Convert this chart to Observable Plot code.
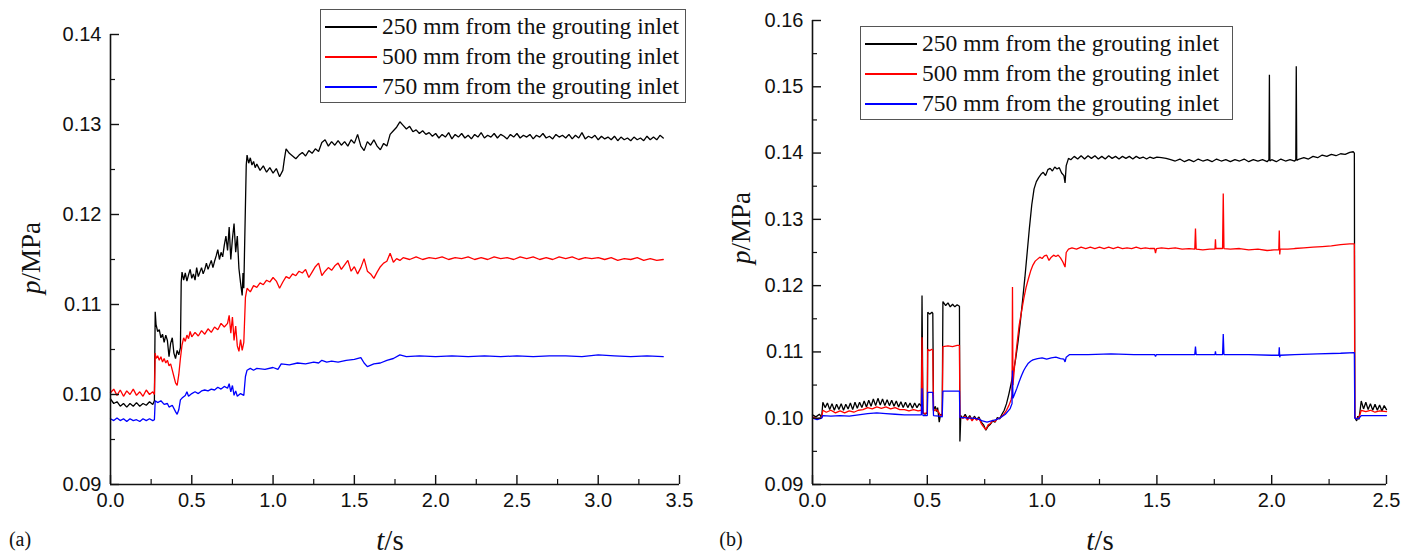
<!DOCTYPE html>
<html>
<head>
<meta charset="utf-8">
<script src="https://cdn.jsdelivr.net/npm/d3@7"></script>
<script src="https://cdn.jsdelivr.net/npm/@observablehq/plot@0.6"></script>
<style>
  html, body { margin: 0; padding: 0; background: #fff; }
  #page { position: relative; width: 1413px; height: 554px; overflow: hidden; background: #fff; color: #111; }
  .panel { position: absolute; top: 0; }
  .legend { position: absolute; border: 1px solid #555; background: #fff; box-sizing: border-box;
            font-family: "Liberation Serif", "Times New Roman", serif; font-size: 23.5px; color: #111; }
  .legend .row { position: absolute; left: 0; height: 30px; line-height: 30px; white-space: nowrap; }
  .legend .sw { position: absolute; left: 4px; top: 15px; width: 52px; height: 1.5px; }
  .legend .tx { position: absolute; left: 61px; top: 0; }
  .lab { position: absolute; font-family: "Liberation Serif", "Times New Roman", serif; color: #111; white-space: nowrap; }
</style>
</head>
<body>
<div id="page"></div>
<script>
// ---------- categories / legend ----------
const seriesNames = ["250 mm from the grouting inlet", "500 mm from the grouting inlet", "750 mm from the grouting inlet"];
const seriesColors = ["#000000", "#ff0000", "#0000ff"];

// ---------- panel (a) ticks ----------
const aXTicks = [0, 0.5, 1.0, 1.5, 2.0, 2.5, 3.0, 3.5];
const aXMinor = [0.25, 0.75, 1.25, 1.75, 2.25, 2.75, 3.25];
const aYTicks = [0.09, 0.10, 0.11, 0.12, 0.13, 0.14];
const aYMinor = [0.095, 0.105, 0.115, 0.125, 0.135];
// ---------- panel (b) ticks ----------
const bXTicks = [0, 0.5, 1.0, 1.5, 2.0, 2.5];
const bXMinor = [0.25, 0.75, 1.25, 1.75, 2.25];
const bYTicks = [0.09, 0.10, 0.11, 0.12, 0.13, 0.14, 0.15, 0.16];
const bYMinor = [0.095, 0.105, 0.115, 0.125, 0.135, 0.145, 0.155];

// ---------- panel (a) series: [t (s), p (MPa)] ----------
const a250 = [[0,0.0995],[0.02,0.0990],[0.04,0.0992],[0.06,0.0987],[0.08,0.0990],[0.10,0.0986],[0.12,0.0990],[0.14,0.0987],[0.16,0.0991],[0.18,0.0987],[0.20,0.0990],[0.22,0.0988],[0.24,0.0992],[0.26,0.0989],[0.27,0.0993],
[0.275,0.1092],[0.28,0.1078],[0.29,0.1070],[0.30,0.1072],[0.31,0.1063],[0.32,0.1067],[0.33,0.1058],[0.34,0.1066],[0.35,0.1060],[0.36,0.1042],[0.37,0.1057],[0.38,0.1063],[0.39,0.1046],[0.40,0.1040],[0.41,0.1049],[0.42,0.1044],[0.43,0.1052],
[0.435,0.1125],[0.44,0.1136],[0.45,0.1127],[0.46,0.1135],[0.47,0.1126],[0.48,0.1133],[0.49,0.1139],[0.50,0.1129],[0.51,0.1134],[0.52,0.1127],[0.53,0.1141],[0.54,0.1131],[0.55,0.1136],[0.56,0.1141],[0.57,0.1134],[0.58,0.1139],[0.59,0.1146],[0.60,0.1139],[0.61,0.1144],[0.62,0.1149],[0.63,0.1141],[0.64,0.1148],[0.65,0.1154],[0.66,0.1161],[0.67,0.1150],[0.68,0.1158],[0.69,0.1153],[0.70,0.1166],[0.71,0.1176],[0.72,0.1160],[0.73,0.1186],[0.74,0.1150],[0.75,0.1173],[0.76,0.1190],[0.77,0.1158],[0.78,0.1176],[0.79,0.1140],[0.80,0.1124],[0.81,0.1110],[0.815,0.1135],[0.82,0.1118],[0.825,0.1165],
[0.835,0.1255],[0.84,0.1266],[0.85,0.1257],[0.86,0.1263],[0.87,0.1255],[0.88,0.1259],[0.89,0.1252],[0.90,0.1256],[0.92,0.1249],[0.94,0.1254],[0.96,0.1247],[0.98,0.1252],[1.00,0.1246],[1.02,0.1251],[1.04,0.1242],[1.06,0.1249],[1.07,0.1262],[1.08,0.1273],[1.10,0.1268],[1.12,0.1265],[1.14,0.1262],[1.16,0.1266],[1.18,0.1269],[1.20,0.1265],[1.22,0.1271],[1.24,0.1268],[1.26,0.1273],[1.28,0.1270],[1.30,0.1280],[1.32,0.1283],[1.34,0.1276],[1.36,0.1281],[1.38,0.1277],[1.40,0.1282],[1.42,0.1277],[1.44,0.1281],[1.46,0.1276],[1.48,0.1283],[1.50,0.1279],[1.52,0.1289],[1.54,0.1276],[1.56,0.1271],[1.58,0.1281],[1.60,0.1277],[1.62,0.1283],[1.64,0.1276],[1.66,0.1272],[1.68,0.1279],[1.70,0.1276],[1.72,0.1289],[1.74,0.1293],[1.76,0.1297],[1.78,0.1303],[1.80,0.1299],[1.82,0.1295],[1.84,0.1298],[1.86,0.1292],[1.88,0.1294],[1.90,0.1290],[1.92,0.1293],[1.94,0.1289],[1.96,0.1291],[1.98,0.1287],[2.00,0.1290],
[2.02,0.1285],[2.04,0.1289],[2.06,0.1286],[2.08,0.1291],[2.10,0.1284],[2.12,0.1289],[2.14,0.1286],[2.16,0.1290],[2.18,0.1285],[2.20,0.1288],[2.22,0.1284],[2.24,0.1289],[2.26,0.1286],[2.28,0.1291],[2.30,0.1285],[2.32,0.1288],[2.34,0.1286],[2.36,0.1290],[2.38,0.1285],[2.40,0.1289],[2.42,0.1287],[2.44,0.1284],[2.46,0.1289],[2.48,0.1286],[2.50,0.1290],[2.52,0.1285],[2.54,0.1288],[2.56,0.1286],[2.58,0.1289],[2.60,0.1284],[2.62,0.1288],[2.64,0.1286],[2.66,0.1290],[2.68,0.1285],[2.70,0.1287],[2.72,0.1284],[2.74,0.1289],[2.76,0.1286],[2.78,0.1288],[2.80,0.1285],[2.82,0.1289],[2.84,0.1284],[2.86,0.1288],[2.88,0.1285],[2.90,0.1291],[2.92,0.1284],[2.94,0.1287],[2.96,0.1285],[2.98,0.1288],[3.00,0.1283],[3.02,0.1287],[3.04,0.1284],[3.06,0.1286],[3.08,0.1283],[3.10,0.1287],[3.12,0.1282],[3.14,0.1286],[3.16,0.1283],[3.18,0.1285],[3.20,0.1282],[3.22,0.1286],[3.24,0.1283],[3.26,0.1285],[3.28,0.1282],[3.30,0.1287],[3.32,0.1283],[3.34,0.1286],[3.36,0.1283],[3.38,0.1288],[3.40,0.1285]];

const a500 = [[0,0.1002],[0.02,0.1006],[0.04,0.0999],[0.06,0.1005],[0.08,0.0998],[0.10,0.1004],[0.12,0.1000],[0.14,0.1006],[0.16,0.0999],[0.18,0.1003],[0.20,0.0998],[0.22,0.1005],[0.24,0.1000],[0.26,0.1003],[0.27,0.1000],
[0.275,0.1046],[0.28,0.1040],[0.29,0.1043],[0.30,0.1038],[0.31,0.1042],[0.32,0.1036],[0.33,0.1040],[0.34,0.1035],[0.35,0.1038],[0.36,0.1032],[0.37,0.1034],[0.38,0.1027],[0.39,0.1020],[0.40,0.1013],[0.41,0.1010],[0.42,0.1022],[0.43,0.1040],[0.44,0.1055],[0.45,0.1063],[0.46,0.1059],[0.47,0.1066],[0.48,0.1062],[0.49,0.1070],[0.50,0.1064],[0.52,0.1069],[0.54,0.1065],[0.56,0.1071],[0.58,0.1067],[0.60,0.1073],[0.62,0.1069],[0.64,0.1075],[0.66,0.1072],[0.68,0.1079],[0.70,0.1075],[0.72,0.1079],[0.73,0.1088],[0.74,0.1068],[0.75,0.1086],[0.76,0.1060],[0.77,0.1076],[0.78,0.1054],[0.79,0.1048],[0.80,0.1061],[0.81,0.1049],[0.82,0.1058],
[0.83,0.1108],[0.84,0.1118],[0.86,0.1114],[0.88,0.1121],[0.90,0.1119],[0.92,0.1124],[0.94,0.1122],[0.96,0.1127],[0.98,0.1125],[1.00,0.1130],[1.02,0.1126],[1.04,0.1118],[1.06,0.1125],[1.08,0.1131],[1.10,0.1129],[1.12,0.1134],[1.14,0.1132],[1.16,0.1137],[1.18,0.1135],[1.20,0.1139],[1.22,0.1130],[1.24,0.1136],[1.26,0.1142],[1.28,0.1146],[1.30,0.1132],[1.32,0.1137],[1.34,0.1141],[1.36,0.1138],[1.38,0.1143],[1.40,0.1146],[1.42,0.1139],[1.44,0.1144],[1.46,0.1149],[1.48,0.1137],[1.50,0.1142],[1.52,0.1134],[1.54,0.1141],[1.56,0.1151],[1.58,0.1137],[1.60,0.1134],[1.62,0.1129],[1.64,0.1136],[1.66,0.1142],[1.68,0.1146],[1.70,0.1148],[1.72,0.1157],[1.74,0.1147],[1.76,0.1151],[1.78,0.1149],[1.80,0.1152],
[1.84,0.1150],[1.88,0.1153],[1.92,0.1150],[1.96,0.1152],[2.00,0.1151],[2.04,0.1153],[2.08,0.1150],[2.12,0.1152],[2.16,0.1151],[2.20,0.1153],[2.24,0.1150],[2.28,0.1152],[2.32,0.1150],[2.36,0.1153],[2.40,0.1151],[2.44,0.1152],[2.48,0.1150],[2.52,0.1153],[2.56,0.1151],[2.60,0.1153],[2.64,0.1150],[2.68,0.1152],[2.72,0.1150],[2.76,0.1153],[2.80,0.1151],[2.84,0.1153],[2.88,0.1150],[2.92,0.1152],[2.96,0.1151],[3.00,0.1152],[3.04,0.1150],[3.08,0.1152],[3.12,0.1149],[3.16,0.1151],[3.20,0.1150],[3.24,0.1152],[3.28,0.1149],[3.32,0.1151],[3.36,0.1149],[3.40,0.1150]];

const a750 = [[0,0.0973],[0.02,0.0971],[0.04,0.0974],[0.06,0.0971],[0.08,0.0973],[0.10,0.0970],[0.12,0.0973],[0.14,0.0971],[0.16,0.0972],[0.18,0.0970],[0.20,0.0973],[0.22,0.0971],[0.24,0.0973],[0.26,0.0971],[0.27,0.0972],
[0.275,0.0993],[0.29,0.0991],[0.31,0.0993],[0.33,0.0989],[0.35,0.0990],[0.36,0.0986],[0.38,0.0988],[0.40,0.0981],[0.41,0.0978],[0.42,0.0983],[0.43,0.0994],[0.44,0.0996],[0.46,0.0999],[0.47,0.1003],[0.48,0.0998],[0.50,0.1001],[0.52,0.1003],[0.54,0.1001],[0.56,0.1004],[0.58,0.1005],[0.60,0.1004],[0.62,0.1006],[0.64,0.1005],[0.66,0.1008],[0.68,0.1006],[0.70,0.1009],[0.72,0.1007],[0.73,0.1012],[0.74,0.1003],[0.75,0.1010],[0.76,0.0999],[0.77,0.1004],[0.78,0.0998],[0.80,0.1001],[0.82,0.0999],
[0.83,0.1020],[0.84,0.1027],[0.86,0.1029],[0.88,0.1027],[0.90,0.1029],[0.95,0.1028],[1.00,0.1030],[1.03,0.1028],[1.05,0.1034],[1.10,0.1033],[1.15,0.1035],[1.20,0.1034],[1.25,0.1036],[1.28,0.1035],[1.30,0.1038],[1.33,0.1036],[1.36,0.1037],[1.40,0.1036],[1.45,0.1038],[1.50,0.1039],[1.54,0.1041],[1.56,0.1035],[1.58,0.1031],[1.62,0.1034],[1.66,0.1035],[1.70,0.1038],[1.74,0.1040],[1.78,0.1044],[1.82,0.1042],[1.90,0.1043],[2.00,0.1042],[2.10,0.1043],[2.20,0.1042],[2.30,0.1043],[2.40,0.1042],[2.50,0.1043],[2.60,0.1042],[2.70,0.1043],[2.80,0.1043],[2.90,0.1042],[3.00,0.1044],[3.10,0.1043],[3.20,0.1042],[3.30,0.1043],[3.40,0.1042]];

// ---------- panel (b) series: [t (s), p (MPa)] ----------
const b250 = [[0,0.1005],[0.015,0.1002],[0.03,0.1006],[0.04,0.1001],[0.045,0.1024],[0.055,0.1016],[0.065,0.1023],[0.075,0.1013],[0.085,0.1022],[0.095,0.1012],[0.105,0.1021],[0.115,0.1013],[0.125,0.1022],[0.135,0.1012],[0.145,0.1021],[0.155,0.1014],[0.165,0.1023],[0.175,0.1013],[0.185,0.1024],[0.195,0.1015],[0.205,0.1024],[0.215,0.1016],[0.225,0.1026],[0.235,0.1017],[0.245,0.1027],[0.255,0.1018],[0.265,0.1029],[0.275,0.1019],[0.285,0.1030],[0.295,0.1020],[0.305,0.1029],[0.315,0.1019],[0.325,0.1028],[0.335,0.1019],[0.345,0.1027],[0.355,0.1018],[0.365,0.1026],[0.375,0.1017],[0.385,0.1025],[0.395,0.1016],[0.405,0.1024],[0.415,0.1016],[0.425,0.1023],[0.435,0.1015],[0.445,0.1023],[0.455,0.1016],[0.465,0.1022],[0.474,0.1018],
[0.477,0.1185],[0.481,0.1008],[0.49,0.1006],[0.50,0.1008],[0.502,0.1160],[0.51,0.1157],[0.52,0.1160],[0.524,0.1158],[0.527,0.1012],[0.535,0.1018],[0.54,0.1010],[0.545,0.1016],[0.552,0.0994],[0.558,0.1006],[0.565,0.1004],[0.568,0.1176],[0.58,0.1170],[0.59,0.1174],[0.60,0.1168],[0.61,0.1172],[0.62,0.1168],[0.63,0.1171],[0.64,0.1169],[0.642,0.0965],[0.646,0.1004],[0.655,0.1000],[0.665,0.1006],[0.675,0.0999],[0.685,0.1004],[0.695,0.0997],[0.705,0.1003],[0.715,0.0998],[0.725,0.1002],[0.735,0.0994],[0.745,0.0990],[0.755,0.0982],[0.765,0.0988],[0.775,0.0991],[0.785,0.0996],[0.795,0.0994],[0.805,0.1001],[0.815,0.0999],[0.825,0.1006],[0.835,0.1012],[0.845,0.1022],[0.855,0.1036],[0.865,0.1052],[0.875,0.1070],[0.885,0.1090],[0.895,0.1115],[0.905,0.1145],[0.915,0.1178],[0.925,0.1212],[0.935,0.1250],[0.945,0.1288],[0.955,0.1322],[0.965,0.1346],[0.975,0.1357],[0.985,0.1363],[0.995,0.1368],[1.005,0.1371],[1.015,0.1366],[1.025,0.1375],[1.035,0.1377],[1.045,0.1373],[1.055,0.1379],[1.065,0.1376],[1.075,0.1378],[1.085,0.1370],[1.095,0.1366],[1.100,0.1355],[1.105,0.1381],[1.115,0.1392],[1.125,0.1390],
[1.14,0.1395],[1.155,0.1391],[1.17,0.1396],[1.185,0.1391],[1.20,0.1396],[1.215,0.1392],[1.23,0.1396],[1.245,0.1391],[1.26,0.1395],[1.275,0.1391],[1.29,0.1396],[1.305,0.1392],[1.32,0.1395],[1.335,0.1391],[1.35,0.1395],[1.365,0.1392],[1.38,0.1395],[1.395,0.1391],[1.41,0.1395],[1.425,0.1392],[1.44,0.1394],[1.455,0.1391],[1.47,0.1394],[1.485,0.1392],[1.50,0.1394],[1.52,0.1393],[1.54,0.1392],[1.56,0.1390],[1.58,0.1388],[1.60,0.1391],[1.62,0.1387],[1.64,0.1390],[1.66,0.1387],[1.68,0.1391],[1.70,0.1388],[1.72,0.1390],[1.74,0.1387],[1.76,0.1391],[1.78,0.1388],[1.80,0.1390],[1.82,0.1387],[1.84,0.1390],[1.86,0.1388],[1.88,0.1391],[1.90,0.1387],[1.92,0.1390],[1.94,0.1388],[1.96,0.1390],[1.98,0.1387],[1.988,0.1390],[1.990,0.1518],[1.992,0.1388],[2.00,0.1390],[2.02,0.1387],[2.04,0.1391],[2.06,0.1388],[2.08,0.1390],[2.10,0.1388],[2.105,0.1390],[2.107,0.1531],[2.109,0.1389],[2.12,0.1391],[2.14,0.1393],[2.16,0.1391],[2.18,0.1395],[2.20,0.1393],[2.22,0.1397],[2.24,0.1395],[2.26,0.1398],[2.28,0.1396],[2.30,0.1399],[2.32,0.1398],[2.34,0.1401],[2.355,0.1402],[2.360,0.1400],
[2.362,0.1001],[2.37,0.0996],[2.375,0.1003],[2.38,0.0998],[2.385,0.1012],[2.39,0.1026],[2.40,0.1014],[2.41,0.1024],[2.42,0.1013],[2.43,0.1022],[2.44,0.1012],[2.45,0.1021],[2.46,0.1012],[2.47,0.1020],[2.48,0.1011],[2.49,0.1019],[2.50,0.1013]];

const b500 = [[0,0.1002],[0.02,0.0999],[0.04,0.1001],[0.045,0.1012],[0.06,0.1009],[0.08,0.1012],[0.10,0.1008],[0.12,0.1011],[0.14,0.1008],[0.16,0.1011],[0.18,0.1009],[0.20,0.1012],[0.22,0.1013],[0.24,0.1016],[0.26,0.1014],[0.28,0.1017],[0.30,0.1015],[0.32,0.1017],[0.34,0.1014],[0.36,0.1016],[0.38,0.1013],[0.40,0.1013],[0.42,0.1011],[0.44,0.1013],[0.46,0.1011],[0.474,0.1012],
[0.477,0.1122],[0.481,0.1008],[0.49,0.1007],[0.50,0.1009],[0.502,0.1104],[0.51,0.1102],[0.52,0.1104],[0.524,0.1103],[0.527,0.1011],[0.54,0.1013],[0.55,0.1009],[0.558,0.1003],[0.565,0.1005],[0.568,0.1108],[0.59,0.1109],[0.61,0.1108],[0.63,0.1110],[0.64,0.1110],[0.642,0.1002],[0.655,0.1000],[0.665,0.1003],[0.675,0.0997],[0.685,0.1002],[0.695,0.0996],[0.705,0.1001],[0.715,0.0997],[0.725,0.1000],[0.735,0.0992],[0.745,0.0987],[0.755,0.0983],[0.765,0.0990],[0.775,0.0992],[0.785,0.0997],[0.795,0.0995],[0.805,0.0999],[0.815,0.1000],[0.825,0.1003],[0.835,0.1007],[0.845,0.1012],[0.855,0.1019],[0.865,0.1028],[0.869,0.1035],[0.871,0.1198],[0.873,0.1050],[0.88,0.1078],[0.89,0.1110],[0.90,0.1140],[0.91,0.1160],[0.92,0.1180],[0.93,0.1197],[0.94,0.1210],[0.95,0.1222],[0.96,0.1231],[0.97,0.1237],[0.98,0.1240],[0.99,0.1243],[1.00,0.1241],[1.01,0.1245],[1.02,0.1246],[1.03,0.1238],[1.04,0.1243],[1.05,0.1246],[1.06,0.1244],[1.07,0.1246],[1.08,0.1242],[1.09,0.1236],[1.10,0.1228],[1.105,0.1250],[1.115,0.1255],
[1.13,0.1257],[1.15,0.1255],[1.17,0.1258],[1.19,0.1256],[1.21,0.1258],[1.23,0.1256],[1.25,0.1258],[1.27,0.1256],[1.29,0.1258],[1.31,0.1256],[1.33,0.1258],[1.35,0.1256],[1.37,0.1257],[1.39,0.1256],[1.41,0.1258],[1.43,0.1256],[1.45,0.1257],[1.47,0.1256],[1.49,0.1256],[1.494,0.1249],[1.498,0.1256],[1.52,0.1257],[1.55,0.1256],[1.58,0.1257],[1.61,0.1255],[1.64,0.1256],[1.665,0.1255],[1.668,0.1286],[1.671,0.1255],[1.70,0.1254],[1.73,0.1255],[1.753,0.1255],[1.755,0.1270],[1.757,0.1256],[1.786,0.1256],[1.789,0.1339],[1.792,0.1256],[1.82,0.1255],[1.86,0.1256],[1.90,0.1254],[1.94,0.1255],[1.98,0.1253],[2.01,0.1254],[2.031,0.1254],[2.033,0.1283],[2.035,0.1247],[2.037,0.1255],[2.07,0.1255],[2.10,0.1256],[2.14,0.1257],[2.18,0.1258],[2.22,0.1259],[2.26,0.1260],[2.30,0.1262],[2.34,0.1263],[2.360,0.1263],
[2.362,0.1002],[2.37,0.0999],[2.38,0.1001],[2.39,0.1012],[2.41,0.1010],[2.43,0.1012],[2.45,0.1009],[2.47,0.1011],[2.50,0.1010]];

const b750 = [[0,0.1000],[0.02,0.0998],[0.04,0.1000],[0.045,0.1004],[0.08,0.1003],[0.12,0.1004],[0.16,0.1003],[0.20,0.1005],[0.24,0.1007],[0.28,0.1008],[0.32,0.1007],[0.36,0.1006],[0.40,0.1005],[0.44,0.1005],[0.474,0.1005],
[0.477,0.1045],[0.481,0.1004],[0.50,0.1004],[0.502,0.1039],[0.524,0.1039],[0.527,0.1004],[0.55,0.1003],[0.565,0.1002],[0.568,0.1041],[0.64,0.1041],[0.642,0.1001],[0.66,0.1001],[0.68,0.1000],[0.70,0.1000],[0.72,0.0999],[0.74,0.0996],[0.76,0.0994],[0.78,0.0996],[0.80,0.0998],[0.82,0.1001],[0.84,0.1006],[0.86,0.1014],[0.869,0.1022],[0.871,0.1072],[0.873,0.1030],[0.88,0.1036],[0.89,0.1045],[0.90,0.1055],[0.91,0.1064],[0.92,0.1072],[0.93,0.1078],[0.94,0.1083],[0.95,0.1086],[0.96,0.1088],[0.98,0.1090],[1.00,0.1091],[1.02,0.1089],[1.04,0.1091],[1.06,0.1092],[1.08,0.1090],[1.095,0.1089],[1.10,0.1085],[1.105,0.1092],[1.12,0.1096],
[1.20,0.1096],[1.30,0.1097],[1.40,0.1096],[1.49,0.1096],[1.494,0.1093],[1.498,0.1096],[1.60,0.1096],[1.665,0.1096],[1.668,0.1108],[1.671,0.1096],[1.753,0.1096],[1.755,0.1101],[1.757,0.1096],[1.786,0.1096],[1.789,0.1127],[1.792,0.1096],[1.90,0.1096],[2.00,0.1095],[2.031,0.1095],[2.033,0.1107],[2.035,0.1092],[2.037,0.1095],[2.10,0.1096],[2.20,0.1097],[2.30,0.1098],[2.36,0.1099],
[2.362,0.1000],[2.37,0.0999],[2.38,0.1000],[2.39,0.1004],[2.45,0.1004],[2.50,0.1004]];

// ---------- drawing ----------
const TICK_FONT = "'Liberation Sans', Arial, sans-serif";

function makePanel(cfg) {
  const plotW = cfg.width - cfg.marginLeft - cfg.marginRight;
  const plotH = cfg.height - cfg.marginTop - cfg.marginBottom;
  const fmtY = d3.format(".2f"), fmtX = d3.format(".1f");
  const lineOpts = (c) => ({x: d => d[0], y: d => d[1], stroke: c, strokeWidth: 1.3, strokeLinejoin: "miter", curve: "linear"});
  return Plot.plot({
    width: cfg.width, height: cfg.height,
    marginLeft: cfg.marginLeft, marginRight: cfg.marginRight,
    marginTop: cfg.marginTop, marginBottom: cfg.marginBottom,
    x: {domain: cfg.xDomain},
    y: {domain: cfg.yDomain},
    style: {background: "transparent", color: "#111", overflow: "visible"},
    marks: [
      Plot.line(cfg.series[0], lineOpts(seriesColors[0])),
      Plot.line(cfg.series[1], lineOpts(seriesColors[1])),
      Plot.line(cfg.series[2], lineOpts(seriesColors[2])),
      // axis lines
      Plot.ruleX([cfg.xDomain[0]], {stroke: "#111", strokeWidth: 1.6}),
      Plot.ruleY([cfg.yDomain[0]], {stroke: "#111", strokeWidth: 1.6}),
      // inward ticks
      Plot.tickX(cfg.xTicks, {x: d => d, insetTop: plotH - 9, stroke: "#111", strokeWidth: 1.4}),
      Plot.tickX(cfg.xMinor, {x: d => d, insetTop: plotH - 5, stroke: "#111", strokeWidth: 1.2}),
      Plot.tickY(cfg.yTicks, {y: d => d, insetRight: plotW - 9, stroke: "#111", strokeWidth: 1.4}),
      Plot.tickY(cfg.yMinor, {y: d => d, insetRight: plotW - 5, stroke: "#111", strokeWidth: 1.2}),
      // tick labels
      Plot.axisX(cfg.xTicks, {tickSize: 0, tickPadding: 8, tickFormat: fmtX, fontSize: 20, fontFamily: TICK_FONT, label: null}),
      Plot.axisY(cfg.yTicks, {tickSize: 0, tickPadding: 9, tickFormat: fmtY, fontSize: 20, fontFamily: TICK_FONT, label: null})
    ]
  });
}

const page = document.getElementById("page");

function place(node, left) {
  const wrap = document.createElement("div");
  wrap.className = "panel";
  wrap.style.left = left + "px";
  wrap.appendChild(node);
  page.appendChild(wrap);
}

place(makePanel({
  width: 700, height: 554, marginLeft: 110, marginRight: 21, marginTop: 34, marginBottom: 70,
  xDomain: [0, 3.5], yDomain: [0.09, 0.14],
  xTicks: aXTicks, xMinor: aXMinor, yTicks: aYTicks, yMinor: aYMinor,
  series: [a250, a500, a750]
}), 0);

place(makePanel({
  width: 713, height: 554, marginLeft: 112, marginRight: 27, marginTop: 20, marginBottom: 70,
  xDomain: [0, 2.5], yDomain: [0.09, 0.16],
  xTicks: bXTicks, xMinor: bXMinor, yTicks: bYTicks, yMinor: bYMinor,
  series: [b250, b500, b750]
}), 700);

function legend(left, top, width, height) {
  const box = document.createElement("div");
  box.className = "legend";
  Object.assign(box.style, {left: left + "px", top: top + "px", width: width + "px", height: height + "px"});
  seriesNames.forEach((name, i) => {
    const row = document.createElement("div");
    row.className = "row";
    row.style.top = (1 + i * 30) + "px";
    const sw = document.createElement("span");
    sw.className = "sw";
    sw.style.background = seriesColors[i];
    const tx = document.createElement("span");
    tx.className = "tx";
    tx.textContent = name;
    row.appendChild(sw); row.appendChild(tx);
    box.appendChild(row);
  });
  page.appendChild(box);
}
legend(320, 9, 366, 94);
legend(860, 26, 373, 94);

function label(html, left, top, size, rotate) {
  const el = document.createElement("div");
  el.className = "lab";
  el.innerHTML = html;
  el.style.left = left + "px";
  el.style.top = top + "px";
  el.style.fontSize = size + "px";
  el.style.transform = "translate(-50%, -50%)" + (rotate ? " rotate(-90deg)" : "");
  page.appendChild(el);
}
label("<i>p</i>/MPa", 31, 258, 27, true);
label("<i>p</i>/MPa", 741, 228, 27, true);
label("<i>t</i>/s", 390, 540, 29, false);
label("<i>t</i>/s", 1100, 540, 29, false);
label("(a)", 20, 539, 20, false);
label("(b)", 731, 539, 20, false);
</script>
</body>
</html>
